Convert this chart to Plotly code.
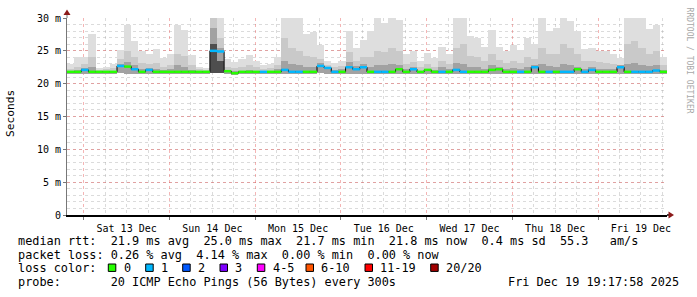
import plotly.graph_objects as go
import pandas as pd

# ---------------- data ----------------
START = "2025-12-12 19:17:58"
END = "2025-12-19 19:17:58"
BIN_HOURS = 2

# smoke envelope per 2-hour bin (ms)
rtt_max = [23.0, 24.0, 24.0, 27.6, 22.4, 22.6, 23.0, 25.2, 29.0, 26.5,
           25.0, 24.5, 25.3, 23.9, 24.5, 29.0, 28.2, 24.4, 22.6, 22.4,
           30.0, 30.0, 23.7, 23.3, 23.8, 24.3, 23.5, 22.8, 23.0, 24.0,
           30.0, 30.0, 30.0, 27.6, 27.8, 25.9, 23.5, 23.2, 23.5, 28.0,
           25.5, 26.6, 28.0, 30.0, 29.2, 30.0, 29.7, 24.5, 24.9, 23.5,
           24.6, 23.9, 25.6, 24.5, 30.0, 30.0, 27.3, 26.9, 25.6, 28.1,
           25.6, 24.9, 25.9, 25.2, 27.0, 26.0, 30.0, 28.0, 28.5, 30.0,
           29.5, 28.0, 25.3, 25.4, 25.0, 25.0, 24.5, 23.9, 30.0, 30.0,
           30.0, 28.3, 29.0, 24.0]
rtt_upper = [22.3, 22.6, 23.0, 24.0, 22.1, 22.2, 22.4, 23.8, 25.0, 24.0,
             23.2, 23.0, 23.2, 22.6, 22.8, 24.5, 24.2, 22.8, 22.2, 22.1,
             30.0, 27.0, 22.6, 22.4, 22.6, 22.8, 22.5, 22.3, 22.4, 22.8,
             27.0, 25.5, 25.0, 24.2, 24.0, 23.8, 22.8, 22.5, 22.7, 24.8,
             23.5, 24.0, 24.0, 25.0, 24.8, 25.5, 25.0, 23.0, 23.3, 22.6,
             23.0, 22.6, 23.5, 23.0, 25.5, 26.0, 24.2, 24.0, 23.5, 24.5,
             23.6, 23.2, 23.5, 23.2, 24.0, 23.8, 25.5, 24.5, 24.5, 26.0,
             25.5, 24.5, 23.5, 23.5, 23.3, 23.2, 23.0, 22.7, 26.0, 26.5,
             25.5, 24.5, 25.0, 22.8]
rtt_dark = [22.0, 22.1, 22.4, 22.6, 21.9, 21.9, 22.0, 23.0, 23.3, 22.8,
            22.3, 22.4, 22.3, 22.1, 22.2, 22.8, 22.6, 22.1, 21.9, 21.9,
            28.5, 25.5, 22.1, 21.9, 22.0, 22.1, 22.0, 21.9, 22.0, 22.2,
            23.5, 23.0, 22.8, 22.6, 22.5, 23.2, 22.6, 22.1, 22.3, 23.3,
            22.7, 23.0, 22.6, 22.9, 22.8, 23.0, 22.9, 22.2, 22.5, 22.0,
            22.3, 22.1, 22.5, 22.3, 23.2, 23.0, 22.6, 22.5, 22.3, 22.9,
            22.6, 22.3, 22.4, 22.3, 22.5, 22.9, 23.0, 22.7, 22.6, 23.0,
            22.8, 22.6, 22.3, 22.5, 22.2, 22.2, 22.3, 22.8, 23.0, 23.2,
            22.9, 22.7, 22.8, 22.1]
rtt_core = [None] * 20 + [26.0, 23.5] + [None] * 62
rtt_min = [21.5, 21.5, 21.5, 21.5, 21.5, 21.5, 21.5, 21.6, 21.5, 21.5,
           21.5, 21.5, 21.5, 21.5, 21.5, 21.5, 21.5, 21.5, 21.5, 21.5,
           21.7, 21.6, 21.5, 21.3, 21.5, 21.5, 21.5, 21.5, 21.5, 21.5,
           21.5, 21.4, 21.4, 21.5, 21.5, 21.6, 21.5, 21.5, 21.5, 21.5,
           21.5, 21.5, 21.5, 21.4, 21.5, 21.5, 21.5, 21.5, 21.5, 21.5,
           21.5, 21.5, 21.5, 21.5, 21.5, 21.5, 21.5, 21.5, 21.5, 21.5,
           21.5, 21.5, 21.5, 21.5, 21.5, 21.5, 21.5, 21.5, 21.5, 21.5,
           21.5, 21.5, 21.5, 21.5, 21.5, 21.5, 21.5, 21.5, 21.5, 21.5,
           21.5, 21.5, 21.5, 21.5]
median = [21.8, 21.8, 22.1, 21.8, 21.8, 21.8, 21.8, 22.7, 22.6, 22.2,
          21.8, 22.1, 21.8, 21.8, 21.8, 21.8, 21.8, 21.8, 21.8, 21.8,
          25.0, 24.9, 21.9, 21.6, 21.8, 21.8, 21.8, 21.8, 21.8, 21.8,
          22.1, 21.8, 21.8, 21.8, 21.8, 22.7, 22.4, 21.8, 21.8, 22.5,
          22.2, 22.5, 21.8, 21.8, 21.8, 21.8, 22.2, 21.8, 22.2, 21.8,
          22.1, 21.8, 21.8, 21.8, 22.1, 21.8, 21.8, 21.8, 21.8, 22.1,
          22.2, 21.8, 21.8, 21.8, 21.8, 22.5, 21.8, 21.8, 21.8, 21.8,
          21.8, 22.2, 21.8, 22.1, 21.8, 21.8, 21.8, 22.5, 21.8, 21.8,
          21.8, 21.8, 22.0, 21.8]
loss = [0, 0, 1, 0, 0, 0, 0, 1, 0, 1,
        0, 1, 0, 0, 0, 0, 0, 0, 0, 0,
        1, 1, 0, 0, 0, 0, 0, 1, 0, 0,
        1, 1, 1, 0, 0, 1, 1, 1, 0, 1,
        1, 1, 0, 1, 1, 0, 0, 0, 1, 0,
        0, 0, 1, 0, 1, 1, 0, 0, 0, 0,
        0, 0, 0, 1, 0, 1, 0, 1, 0, 1,
        1, 0, 1, 1, 0, 0, 0, 1, 0, 1,
        1, 1, 1, 0]

loss_labels = ["0", "1", "2", "3", "4-5", "6-10", "11-19", "20/20"]
loss_colors = ["#26ff00", "#00b8ff", "#0059ff", "#7e00ff",
               "#ff00ff", "#ff5500", "#ff0000", "#a10000"]
loss_level_to_color = {0: 0, 1: 1, 2: 2, 3: 3}

y_tick_vals = [0, 5, 10, 15, 20, 25, 30]
y_tick_text = ["0", "5 m", "10 m", "15 m", "20 m", "25 m", "30 m"]

stats_line1 = "median rtt:  21.9 ms avg  25.0 ms max  21.7 ms min  21.8 ms now  0.4 ms sd  55.3   am/s"
stats_line2 = "packet loss: 0.26 % avg  4.14 % max  0.00 % min  0.00 % now"
probe_line = "probe:       20 ICMP Echo Pings (56 Bytes) every 300s"
stamp = "Fri Dec 19 19:17:58 2025"

# ---------------- layout geometry ----------------
W, H = 697, 297
L, R, T, B = 67, 667, 16, 215
PW, PH = R - L, B - T


def px(xp):
    return (xp - L) / PW


def py(yp):
    return (B - yp) / PH


MONO = "DejaVu Sans Mono"

bin_starts = pd.date_range(START, periods=len(median), freq=f"{BIN_HOURS}h")
bin_w = pd.Timedelta(hours=BIN_HOURS)
centers = bin_starts + bin_w / 2
bin_ends = bin_starts + bin_w
width_ms = BIN_HOURS * 3600 * 1000

fig = go.Figure()


def smoke(top, color):
    fig.add_trace(go.Bar(
        x=centers, base=rtt_min,
        y=[(t - b) if t is not None else None for t, b in zip(top, rtt_min)],
        width=width_ms, marker=dict(color=color, line=dict(width=0)),
        hoverinfo="skip", showlegend=False))


smoke(rtt_max, "#dedede")
smoke(rtt_upper, "#c9c9c9")
smoke(rtt_dark, "#a2a2a2")
smoke(rtt_core, "#4e4e4e")

# median: black thin step line + coloured loss segments
fig.add_trace(go.Scatter(
    x=list(bin_starts) + [bin_ends[-1]], y=median + [median[-1]],
    mode="lines", line=dict(color="black", width=1, shape="hv"),
    hoverinfo="skip", showlegend=False))

for lvl in sorted(set(loss)):
    xs, ys = [], []
    for s, e, m, l in zip(bin_starts, bin_ends, median, loss):
        if l == lvl:
            xs += [s, e, None]
            ys += [m, m, None]
    fig.add_trace(go.Scatter(
        x=xs, y=ys, mode="lines",
        line=dict(color=loss_colors[loss_level_to_color[lvl]], width=2.5),
        hoverinfo="skip", showlegend=False))

MAJOR = "rgba(230,90,90,0.45)"
MINOR = "rgba(160,160,160,0.38)"

fig.update_layout(
    width=W, height=H,
    margin=dict(l=L, r=W - R, t=T, b=H - B, pad=0),
    paper_bgcolor="white", plot_bgcolor="white",
    barmode="overlay", bargap=0,
    showlegend=False,
    font=dict(family=MONO, size=10, color="black"),
    xaxis=dict(
        type="date", range=[START, END],
        tick0="2025-12-13", dtick=86400000,
        ticklabelmode="period", tickformat="%a %d %b",
        showgrid=True, gridcolor=MAJOR, griddash="dot", gridwidth=1,
        minor=dict(dtick=6 * 3600000, tick0="2025-12-13", showgrid=True,
                   gridcolor=MINOR, griddash="dot", gridwidth=1),
        ticks="outside", ticklen=3, tickcolor="#777777",
        showline=True, linecolor="black", linewidth=1.5,
        zeroline=False, tickfont=dict(family=MONO, size=10),
    ),
    yaxis=dict(
        range=[0, 30], tickmode="array", tickvals=y_tick_vals, ticktext=y_tick_text,
        showgrid=True, gridcolor=MAJOR, griddash="dot", gridwidth=1,
        minor=dict(dtick=1, showgrid=True, gridcolor=MINOR, griddash="dot", gridwidth=1),
        ticks="outside", ticklen=3, tickcolor="#777777",
        showline=True, linecolor="#777777", linewidth=1,
        zeroline=False, tickfont=dict(family=MONO, size=10),
    ),
)

NB = "\u00a0"
ann = []


def text(x, y, s, size=11.85, anchor="left", color="black", angle=0):
    ann.append(dict(xref="paper", yref="paper", x=px(x), y=py(y), text=s.replace(" ", NB),
                    showarrow=False, xanchor=anchor, yanchor="middle", textangle=angle,
                    font=dict(family=MONO, size=size, color=color)))


text(16, 241, stats_line1)
text(16, 255, stats_line2)
text(16, 268.5, "loss color:")
text(16, 283, probe_line)
text(681, 283, stamp, anchor="right")
text(10, 113, "Seconds", size=11.2, anchor="center", angle=-90)
text(689, 59, "RRDTOOL / TOBI OETIKER", size=8, anchor="center", color="#a8a8a8", angle=90)

shapes = []
box_x = [108.3, 145.7, 182.7, 220.0, 257.3, 306.0, 365.0, 430.7]
for bx, lab, col in zip(box_x, loss_labels, loss_colors):
    shapes.append(dict(type="rect", xref="paper", yref="paper",
                       x0=px(bx), x1=px(bx + 7.5), y0=py(272), y1=py(264.5),
                       fillcolor=col, line=dict(color="black", width=1)))
    text(bx + 13.3, 268.5, lab)

ARROW = "#8b1a1a"
# y axis extension + arrow
shapes.append(dict(type="line", xref="paper", yref="paper", x0=0, x1=0, y0=1, y1=py(11),
                   line=dict(color="#777777", width=1)))
shapes.append(dict(type="path", xref="paper", yref="paper",
                   path=f"M {px(L-3.5)} {py(13)} L {px(L+3.5)} {py(13)} L {px(L)} {py(7.5)} Z",
                   fillcolor=ARROW, line=dict(width=0)))
# x axis extension + arrow
shapes.append(dict(type="line", xref="paper", yref="paper", x0=1, x1=px(670), y0=0, y1=0,
                   line=dict(color="black", width=1.5)))
shapes.append(dict(type="path", xref="paper", yref="paper",
                   path=f"M {px(668.5)} {py(211.5)} L {px(668.5)} {py(218.5)} L {px(674)} {py(215)} Z",
                   fillcolor=ARROW, line=dict(width=0)))

fig.update_layout(annotations=ann, shapes=shapes)
fig.write_html("out.html")
